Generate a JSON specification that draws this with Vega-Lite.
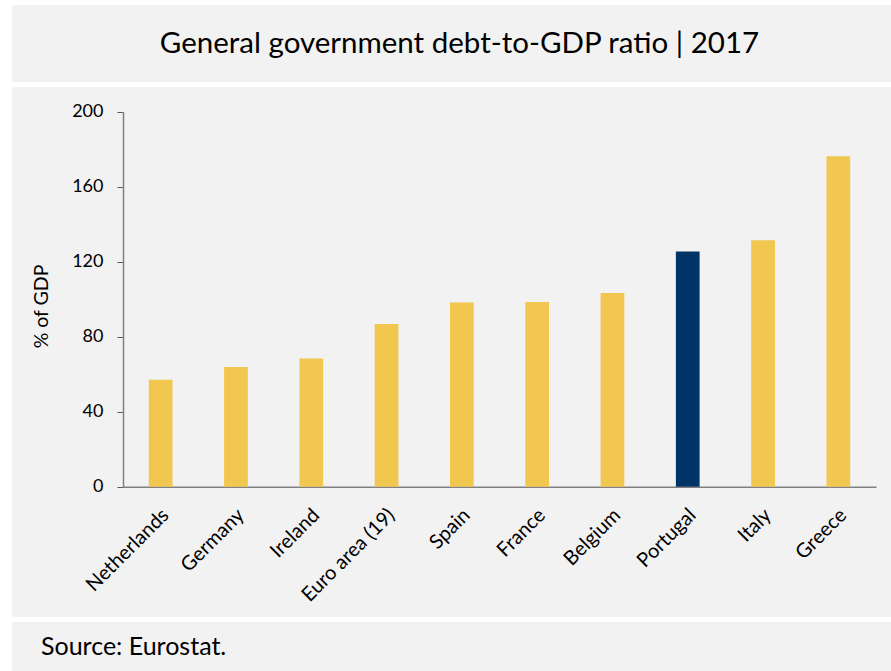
{
  "$schema": "https://vega.github.io/schema/vega-lite/v6.json",
  "background": "white",
  "padding": {"left": 12, "top": 5, "right": 0, "bottom": 0},
  "spacing": 5,
  "config": {
    "view": {"fill": "#F2F2F2", "stroke": null},
    "font": "Lato",
    "axis": {"labelFont": "Lato", "titleFont": "Lato"}
  },
  "datasets": {
    "debt": [
      {"country": "Netherlands", "value": 57.1},
      {"country": "Germany", "value": 63.9},
      {"country": "Ireland", "value": 68.4},
      {"country": "Euro area (19)", "value": 86.8},
      {"country": "Spain", "value": 98.3},
      {"country": "France", "value": 98.5},
      {"country": "Belgium", "value": 103.3},
      {"country": "Portugal", "value": 125.4},
      {"country": "Italy", "value": 131.5},
      {"country": "Greece", "value": 176.3}
    ],
    "title": [{"text": "General government debt-to-GDP ratio | 2017"}],
    "source": [{"text": "Source: Eurostat."}]
  },
  "vconcat": [
    {
      "width": 879,
      "height": 77,
      "data": {"name": "title"},
      "mark": {"type": "text", "dx": 8, "align": "center", "baseline": "middle", "fontSize": 29.5, "color": "#000000", "font": "Lato"},
      "encoding": {
        "text": {"field": "text", "type": "nominal"},
        "x": {"datum": 0.5, "type": "quantitative", "scale": {"domain": [0, 1]}, "axis": null},
        "y": {"datum": 0.5, "type": "quantitative", "scale": {"domain": [0, 1]}, "axis": null}
      }
    },
    {
      "width": 879,
      "height": 530,
      "data": {"name": "debt"},
      "mark": {"type": "bar"},
      "encoding": {
        "x": {
          "field": "country",
          "type": "nominal",
          "sort": null,
          "scale": {"range": [111, 864], "paddingInner": 0.685, "paddingOuter": 0.3425},
          "axis": {
            "title": null,
            "offset": -130.3,
            "labelAngle": -45,
            "labelAlign": "right",
            "labelBaseline": "top",
            "labelPadding": 18,
            "labelOffset": -2,
            "labelFontSize": 20,
            "labelColor": "#000000",
            "ticks": false,
            "domainColor": "#808080",
            "domainWidth": 1.5
          }
        },
        "y": {
          "field": "value",
          "type": "quantitative",
          "scale": {"domain": [0, 200], "range": [399.7, 24.7], "nice": false, "zero": true},
          "axis": {
            "title": "% of GDP",
            "offset": -111,
            "values": [0, 40, 80, 120, 160, 200],
            "grid": false,
            "tickSize": 6,
            "tickColor": "#595959",
            "tickWidth": 1,
            "domainColor": "#808080",
            "domainWidth": 1.5,
            "labelFontSize": 18,
            "labelColor": "#000000",
            "labelPadding": 14,
            "titleFontSize": 19.5,
            "titleFontWeight": "normal",
            "titleColor": "#000000",
            "titleAngle": -90,
            "titleX": -82,
            "titleY": 219,
            "titleAlign": "center",
            "titleBaseline": "middle"
          }
        },
        "color": {
          "condition": {"test": "datum.country === 'Portugal'", "value": "#003366"},
          "value": "#F2C74F"
        }
      }
    },
    {
      "width": 879,
      "height": 49,
      "data": {"name": "source"},
      "mark": {"type": "text", "dx": 29, "align": "left", "baseline": "middle", "fontSize": 25, "color": "#000000", "font": "Lato"},
      "encoding": {
        "text": {"field": "text", "type": "nominal"},
        "x": {"datum": 0, "type": "quantitative", "scale": {"domain": [0, 1]}, "axis": null},
        "y": {"datum": 0.5, "type": "quantitative", "scale": {"domain": [0, 1]}, "axis": null}
      }
    }
  ]
}
